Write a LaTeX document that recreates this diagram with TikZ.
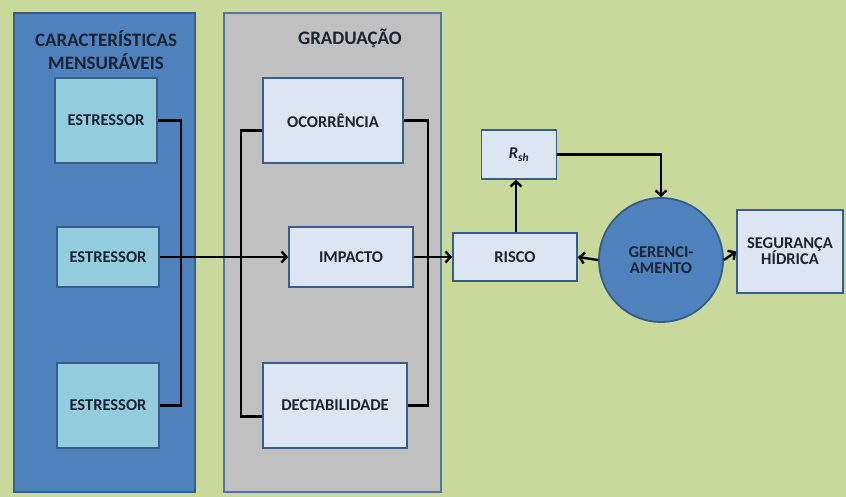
\documentclass[tikz,border=0pt]{standalone}
\usepackage{fontspec}
\setmainfont{Carlito}
\usetikzlibrary{arrows.meta}

\definecolor{fundo}{HTML}{C8D99B}
\definecolor{painelazul}{HTML}{4F81BD}
\definecolor{bordaazul}{HTML}{385D8A}
\definecolor{painelcinza}{HTML}{C0C0C0}
\definecolor{caixaazul}{HTML}{93CDDD}
\definecolor{caixaclara}{HTML}{DCE6F2}
\definecolor{texto}{HTML}{1A2433}

\begin{document}
\begin{tikzpicture}[x=1pt, y=-1pt,
    caixa/.style={draw=bordaazul, line width=1.8pt, fill=caixaclara, text=texto,
                  font=\bfseries\fontsize{16.5}{19}\selectfont, align=center, inner sep=0pt},
    estressor/.style={caixa, fill=caixaazul, minimum width=102pt},
    titulo/.style={text=texto, font=\bfseries\fontsize{19}{23}\selectfont, align=center},
    seta/.style={line width=2.4pt, -{Straight Barb[length=5pt, width=11pt]}},
    linha/.style={line width=2.4pt}]
    \useasboundingbox (0,0) rectangle (846,497);
    \fill[fundo] (0,0) rectangle (846,497);

    % paineis
    \draw[fill=painelazul, draw=bordaazul, line width=1.6pt] (14,13) rectangle (195,492);
    \draw[fill=painelcinza, draw=bordaazul!85, line width=1.6pt] (224,13) rectangle (441,492);
    \node[titulo] (tcar) at (106,50) {CARACTERÍSTICAS\\MENSURÁVEIS};
    \node[titulo] (tgrad) at (350,38) {GRADUAÇÃO};

    % caracteristicas
    \node[estressor, minimum height=85pt] (e1) at (106,120.5) {ESTRESSOR};
    \node[estressor, minimum height=60pt] (e2) at (108,257) {ESTRESSOR};
    \node[estressor, minimum height=85pt] (e3) at (108,405.5) {ESTRESSOR};

    % graduacao
    \node[caixa, minimum width=140pt, minimum height=85pt] (oc) at (333,120.5) {OCORRÊNCIA};
    \node[caixa, minimum width=124pt, minimum height=60pt] (imp) at (351,257) {IMPACTO};
    \node[caixa, minimum width=144pt, minimum height=85pt] (dec) at (335,405.5) {DECTABILIDADE};

    % risco e gestao
    \node[caixa, minimum width=124pt, minimum height=48pt] (risco) at (515,257) {RISCO};
    \node[caixa, minimum width=75pt, minimum height=49pt] (rsh) at (519,154.5) {\itshape R\textsubscript{sh}};
    \node[caixa, fill=painelazul, circle, minimum size=124pt] (ger) at (661,260) {GERENCI-\\[-3pt]AMENTO};
    \node[caixa, minimum width=106pt, minimum height=83pt] (seg) at (790,251.5) {SEGURANÇA\\[-3pt]HÍDRICA};

    % conexoes
    \draw[linha] (e1.east) -- ++(23,0) |- (e3.east);
    \draw[seta] (e2.east) -- (imp.west);
    \draw[linha] ([yshift=-10pt]oc.west) -- ++(-21,0) |- ([yshift=-11pt]dec.west);
    \draw[linha] (oc.east) -- ++(24,0) |- (dec.east);
    \draw[seta] (imp.east) -- (risco.west);
    \draw[seta] (risco.north -| 516,0) -- (rsh.south -| 516,0);
    \draw[seta] (rsh.east) -| (ger.north);
    \draw[seta] (ger.west) -- (risco.east);
    \draw[seta] (ger.east) -- (seg.west);
\end{tikzpicture}
\end{document}
